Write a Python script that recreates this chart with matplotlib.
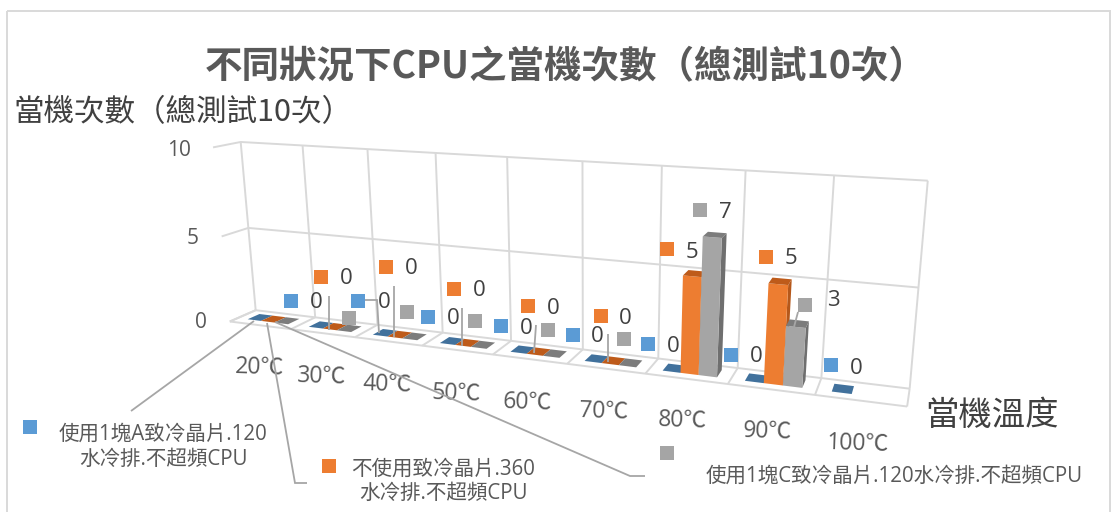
import numpy as np
import matplotlib
matplotlib.use("Agg")
import matplotlib.pyplot as plt
from matplotlib.patches import Polygon, Rectangle

# ---------- data ----------
categories = ["20℃", "30℃", "40℃", "50℃", "60℃", "70℃", "80℃", "90℃", "100℃"]
series_a = [0, 0, 0, 0, 0, 0, 0, 0, 0]
series_b = [0, 0, 0, 0, 0, 0, 5, 5, None]
series_c = [0, 0, 0, 0, 0, 0, 7, 3, None]
series_a_name = "使用1塊A致冷晶片.120\n水冷排.不超頻CPU"
series_b_name = "不使用致冷晶片.360\n水冷排.不超頻CPU"
series_c_name = "使用1塊C致冷晶片.120水冷排.不超頻CPU"
value_ticks = [0, 5, 10]
title = "不同狀況下CPU之當機次數（總測試10次）"
y_title = "當機次數（總測試10次）"
x_title = "當機溫度"

# ---------- style ----------
C_A, C_B, C_C = "#5B9BD5", "#ED7D31", "#A5A5A5"
TOP = {C_A: "#41719C", C_B: "#BE5B1A", C_C: "#7C7C7C"}
SIDE = {C_A: "#3E6C96", C_B: "#B5581B", C_C: "#6F6F6F"}
GRID = "#D9D9D9"
FONT = ["Open Sans", "Noto Sans CJK TC", "DejaVu Sans"]
CJK = ["Noto Sans CJK TC", "DejaVu Sans"]
plt.rcParams["font.family"] = FONT

# ---------- layout of the hand-placed labels (pixel positions) ----------
keys_a = [None, (291, 301), (358, 301), (428, 317), (501, 326), (573, 335), (648, 344), (731, 355), (831, 365)]
nums_a = [None, (316, 303), (384, 303), (453, 319), (526, 328), (597, 337), (673, 347), (756, 357), (856, 368)]
keys_b = [None, (321, 277), (386, 267), (454, 289), (528, 306), (601, 316), (667, 249), (766, 257), None]
nums_b = [None, (346, 279), (411, 269), (479, 291), (553, 308), (625, 318), (692, 252), (791, 259), None]
keys_c = [None, (349, 318), (407, 312), (475, 321), (548, 330), (624, 339), (700, 210), (805, 305), None]
nums_c = [None, None, None, None, None, None, (725, 213), (833, 300), None]
cat_pos = [(260, 368), (322, 377), (387, 385), (456, 394), (528, 403), (604, 412), (683, 421), (768, 432), (858, 444)]
tick_pos = [(201, 323), (193, 238), (179, 150)]
leaders = [
    [(254, 321), (131, 411)],
    [(267, 323), (295, 483), (307, 483)],
    [(275, 322), (630, 476), (645, 476)],
    [(329, 296), (329, 330)],
    [(394, 286), (394, 337)],
    [(462, 308), (462, 346)],
    [(536, 325), (534, 353)],
    [(608, 334), (608, 362)],
    [(365, 300), (377, 300), (379, 333)],
    [(798, 312), (794, 327)],
]

# ---------- camera fitted to the walls of the 3-D plot ----------
anchors = [
    ((0, 0, 0), (230, 321.7)), ((9, 0, 0), (907, 406.7)),
    ((0, 1, 0), (255.7, 310)), ((9, 1, 0), (910, 388.7)),
    ((0, 0, 10), (213, 147)), ((0, 1, 5), (248, 228)), ((9, 1, 5), (918, 287)),
    ((0, 1, 10), (241, 142)), ((1, 1, 10), (302.7, 145)), ((2, 1, 10), (367, 149)),
    ((3, 1, 10), (436, 153)), ((4, 1, 10), (507, 157.5)), ((5, 1, 10), (582, 162)),
    ((6, 1, 10), (662, 166)), ((7, 1, 10), (746, 171)), ((8, 1, 10), (834, 175)),
    ((9, 1, 10), (928, 180)),
]
rows = []
for (X, Y, Z), (u, v) in anchors:
    rows.append([X, Y, Z, 1, 0, 0, 0, 0, -u * X, -u * Y, -u * Z, -u])
    rows.append([0, 0, 0, 0, X, Y, Z, 1, -v * X, -v * Y, -v * Z, -v])
P = np.linalg.svd(np.array(rows, dtype=float))[2][-1].reshape(3, 4)


def proj(x, y, z):
    h = P @ np.array([x, y, z, 1.0])
    return h[0] / h[2], h[1] / h[2]


fig = plt.figure(figsize=(11.15, 5.12), dpi=100)
ax = fig.add_axes([0, 0, 1, 1])
ax.set_xlim(0, 1115)
ax.set_ylim(512, 0)
ax.axis("off")


def line(pts, color=GRID, lw=1.4, z=1):
    xs, ys = zip(*pts)
    ax.plot(xs, ys, color=color, lw=lw, zorder=z, solid_capstyle="butt", solid_joinstyle="miter")


# frame
ax.add_patch(Rectangle((7, 11), 1103, 520, fill=False, ec="#D9D9D9", lw=1.4, zorder=0))

# walls and floor
n = len(categories)
top_val = value_ticks[-1]
for k in range(n + 1):
    line([proj(k, 1, 0), proj(k, 1, top_val)])
    line([proj(k, 0, 0), proj(k, 1, 0)])
for v in value_ticks:
    line([proj(0, 0, v), proj(0, 1, v), proj(n, 1, v)])
line([proj(0, 0, 0), proj(n, 0, 0)])
for v, (tx, ty) in zip(value_ticks, tick_pos):
    ax.text(tx, ty, str(v), ha="center", va="center", fontsize=15, color="#595959")

# bars
GAP = 1.5
series = [(series_a, C_A), (series_b, C_B), (series_c, C_C)]
w = 1 / (len(series) + GAP)
y0, y1 = 0.30, 0.76
for i in range(n):
    for s, (vals, col) in enumerate(series):
        val = vals[i]
        if val is None:
            continue
        xl = i + GAP * w / 2 + s * w
        xr = xl + w
        z = 3 + s * 0.1 + i * 0.01
        if val > 0:
            ax.add_patch(Polygon([proj(xr, y0, 0), proj(xr, y1, 0), proj(xr, y1, val), proj(xr, y0, val)],
                                 fc=SIDE[col], ec="none", zorder=z))
            ax.add_patch(Polygon([proj(xl, y0, 0), proj(xr, y0, 0), proj(xr, y0, val), proj(xl, y0, val)],
                                 fc=col, ec="none", zorder=z))
        ax.add_patch(Polygon([proj(xl, y0, val), proj(xr, y0, val), proj(xr, y1, val), proj(xl, y1, val)],
                             fc=TOP[col], ec="none", zorder=z))

# leader lines
for pts in leaders:
    line(pts, color="#A6A6A6", lw=1.3, z=4)


def key(pos, col):
    ax.add_patch(Rectangle((pos[0] - 7, pos[1] - 7), 14, 14, fc=col, ec="none", zorder=6))


# data labels
for vals, keys, nums, col in [(series_a, keys_a, nums_a, C_A),
                              (series_b, keys_b, nums_b, C_B),
                              (series_c, keys_c, nums_c, C_C)]:
    for i, val in enumerate(vals):
        if val is None:
            continue
        if keys[i] is not None:
            key(keys[i], col)
        if nums[i] is not None:
            ax.text(nums[i][0], nums[i][1], str(val), ha="center", va="center",
                    fontsize=16, color="#404040", zorder=5)

# series-name labels for the first category
key((30, 427), C_A)
key((329, 466), C_B)
key((667, 453), C_C)
ax.text(163, 447, series_a_name, ha="center", va="center", fontsize=14.8, color="#595959",
        linespacing=1.25, family=FONT, zorder=6)
ax.text(443, 481, series_b_name, ha="center", va="center", fontsize=14.8, color="#595959",
        linespacing=1.2, family=FONT, zorder=6)
ax.text(894, 476, series_c_name, ha="center", va="center", fontsize=14.8, color="#595959",
        family=FONT, zorder=6)

# category labels
for lab, (cx, cy) in zip(categories, cat_pos):
    ax.text(cx, cy, lab, ha="center", va="center", fontsize=16.5, color="#595959", rotation=-2, family=FONT)

# titles
ax.text(566, 67, title, ha="center", va="center", fontsize=27, color="#595959", fontweight="bold",
        family=["Noto Sans CJK TC", "DejaVu Sans"])
ax.text(183, 113, y_title, ha="center", va="center", fontsize=22, color="#404040", fontweight="light", family=CJK)
ax.text(992, 415, x_title, ha="center", va="center", fontsize=24, color="#404040", fontweight="light", family=CJK)

fig.savefig("out.png", dpi=100, facecolor="white")
